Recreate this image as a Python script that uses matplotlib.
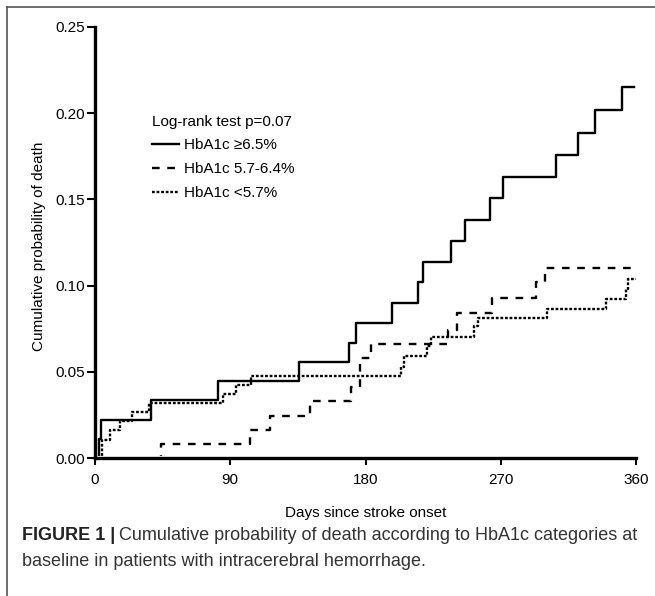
# Kaplan-Meier style cumulative death curves by HbA1c group
import matplotlib
matplotlib.use('Agg')
import matplotlib.pyplot as plt
from matplotlib.lines import Line2D
from matplotlib.patches import Rectangle

plt.rcParams['font.family'] = ['Liberation Sans', 'DejaVu Sans']
plt.rcParams['lines.scale_dashes'] = False

# data (day of step, cumulative probability after step)
days_high = [0, 2.7, 4, 37, 82, 135.7, 168.9, 173.7, 197.4, 214.7, 218.5, 236.8,
             246.3, 263, 271.6, 306.5, 321.4, 333, 350.4, 359]
prob_high = [0, 0.0113, 0.0223, 0.0334, 0.0446, 0.0558, 0.0669, 0.0785, 0.090, 0.102,
             0.1137, 0.126, 0.138, 0.1507, 0.163, 0.176, 0.1885, 0.2018, 0.215, 0.215]

days_mid = [0, 43.8, 103.4, 116.6, 143.4, 170.4, 176.4, 183.7, 235, 241.2, 264,
            293.7, 299.2, 360]
prob_mid = [0, 0.0084, 0.0165, 0.0246, 0.0332, 0.0412, 0.058, 0.0662, 0.0745,
            0.0839, 0.0926, 0.102, 0.110, 0.110]

days_low = [0, 4.6, 10, 16.6, 24.4, 36, 85.2, 94, 103.6, 203.6, 205.6, 220.7,
            223.6, 252.3, 255, 301, 340.2, 353.4, 354.8, 360]
prob_low = [0, 0.0107, 0.0165, 0.0213, 0.0265, 0.032, 0.0373, 0.0425, 0.0477,
            0.053, 0.059, 0.0647, 0.070, 0.0763, 0.081, 0.0864, 0.092, 0.098,
            0.1037, 0.1037]

labels = ['HbA1c \u22656.5%', 'HbA1c 5.7-6.4%', 'HbA1c <5.7%']
x_ticks = [0, 90, 180, 270, 360]
y_ticks = [0.00, 0.05, 0.10, 0.15, 0.20, 0.25]

W, H = 655, 596
fig = plt.figure(figsize=(W / 100, H / 100), dpi=100)
ax = fig.add_axes([95 / W, (H - 458) / H, (636 - 95) / W, (458 - 27) / H])

lw = 1.7
styles = ['-', (0, (5.5, 5.5)), (0, (2, 1.3))]
series = [(days_high, prob_high), (days_mid, prob_mid), (days_low, prob_low)]
for (d, p), ls, lab in zip(series, styles, labels):
    ln, = ax.step(d, p, where='post', color='black', lw=lw, linestyle=ls,
                  label=lab, zorder=1)
    # hide the part of the curve lying on the x axis
    ln.set_clip_path(Rectangle((-0.01, 0.005), 1.1, 1.1, transform=ax.transAxes))

ax.set_xlim(0, 360)
ax.set_ylim(0, 0.25)
ax.set_xticks(x_ticks)
ax.set_yticks(y_ticks)
ax.set_yticklabels(['%.2f' % v for v in y_ticks])
for s in ['top', 'right']:
    ax.spines[s].set_visible(False)
for s in ['left', 'bottom']:
    ax.spines[s].set_linewidth(2.4)
    ax.spines[s].set_zorder(5)
ax.tick_params(axis='y', length=6, width=1.5, pad=1, labelsize=11)
ax.tick_params(axis='x', length=5, width=1.5, pad=6, labelsize=11)

ax.set_xlabel('Days since stroke onset', fontsize=11)
ax.xaxis.set_label_coords(0.5, -0.128)
ax.xaxis.label.set_va('center')
ax.set_ylabel('Cumulative probability of death', fontsize=11)
ax.yaxis.set_label_coords(-0.104, 0.49)
ax.yaxis.label.set_va('center')

leg = ax.legend(loc='upper left', bbox_to_anchor=((147 - 95) / 541, (458 - 110) / 431),
                frameon=False, title='Log-rank test p=0.07', alignment='left',
                fontsize=11, title_fontsize=11, handlelength=1.8, handletextpad=0.3,
                labelspacing=0.64, borderpad=0.3, borderaxespad=0)

# page frame (left and top)
fig.add_artist(Line2D([7 / W, 7 / W], [0, 1 - 7 / H], color='#555555', lw=1.2))
fig.add_artist(Line2D([7 / W, 1], [1 - 7 / H, 1 - 7 / H], color='#555555', lw=1.2))

# caption
fig.canvas.draw()
r = fig.canvas.get_renderer()
t1 = fig.text(22 / W, 1 - 535 / H, 'FIGURE 1 |', fontsize=13, fontweight='bold',
              va='center', ha='left', color='#222222')
bb = t1.get_window_extent(r)
fig.text(bb.x1 / W + 4 / W, 1 - 535 / H,
         'Cumulative probability of death according to HbA1c categories at',
         fontsize=13, va='center', ha='left', color='#333333')
fig.text(22 / W, 1 - 562 / H, 'baseline in patients with intracerebral hemorrhage.',
         fontsize=13, va='center', ha='left', color='#333333')

fig.savefig('out.png', dpi=100)
